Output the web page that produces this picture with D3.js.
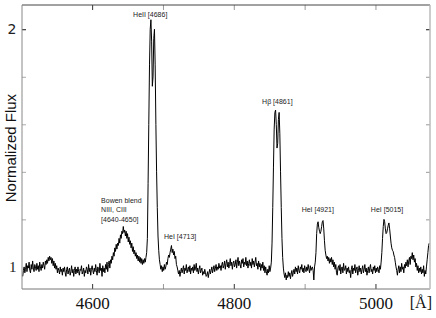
<!DOCTYPE html>
<html>
<head>
<meta charset="utf-8">
<script src="https://cdn.jsdelivr.net/npm/d3@7"></script>
<style>
  body { margin: 0; background: #fff; }
  svg { display: block; }
  .lineid { opacity: 0.99; }
</style>
</head>
<body>
<div id="chart"></div>
<script>
var wlStart = 4502;
var wlStep = 1;
var flux = [
  0.96, 0.985, 1.0, 0.975, 0.99, 1.015, 0.98, 1.005, 0.995, 1.02, 0.985, 0.975, 1.01, 0.99, 1.025, 0.995, 0.98, 1.01, 1.0, 0.985,
  1.015, 0.99, 1.005, 0.98, 1.02, 1.0, 0.985, 1.01, 0.995, 1.02, 1.005, 0.99, 1.025, 1.01, 1.03, 1.015, 1.04, 1.025, 1.045, 1.03,
  1.04, 1.015, 1.035, 1.005, 1.025, 0.995, 1.015, 0.99, 1.005, 0.975, 0.995, 0.985, 0.97, 1.0, 0.98, 0.99, 0.965, 0.995, 0.98, 1.0,
  0.975, 0.96, 0.99, 1.0, 0.97, 0.985, 0.995, 0.965, 0.98, 1.005, 0.975, 0.99, 0.96, 0.985, 1.0, 0.97, 0.99, 0.975, 1.0, 0.98,
  0.965, 0.99, 0.985, 1.005, 0.97, 0.98, 0.995, 0.96, 0.985, 0.975, 1.0, 0.99, 0.97, 1.01, 0.98, 0.995, 0.965, 0.99, 1.005, 0.985,
  0.97, 0.995, 0.98, 1.01, 0.985, 0.965, 1.0, 0.99, 0.975, 1.015, 0.985, 0.995, 0.96, 1.005, 0.98, 0.995, 0.975, 1.01, 0.99, 1.02,
  0.98, 1.01, 1.025, 0.995, 1.03, 1.015, 1.045, 1.03, 1.06, 1.045, 1.08, 1.065, 1.095, 1.075, 1.1, 1.09, 1.12, 1.1, 1.135, 1.12,
  1.15, 1.14, 1.17, 1.145, 1.155, 1.13, 1.15, 1.12, 1.14, 1.105, 1.125, 1.095, 1.11, 1.08, 1.1, 1.065, 1.085, 1.055, 1.07, 1.045,
  1.06, 1.035, 1.05, 1.025, 1.045, 1.02, 1.04, 1.015, 1.035, 1.01, 1.03, 1.015, 1.035, 1.02, 1.04, 1.06, 1.12, 1.35, 1.6, 1.85,
  2.0, 2.04, 1.95, 1.76, 1.8, 1.96, 2.0, 1.85, 1.6, 1.4, 1.25, 1.13, 1.07, 1.03, 1.01, 0.99, 1.005, 0.98, 1.0, 0.985,
  1.01, 0.99, 1.0, 1.02, 1.01, 1.035, 1.05, 1.04, 1.06, 1.075, 1.09, 1.06, 1.075, 1.05, 1.065, 1.035, 1.045, 1.01, 1.0, 0.985,
  0.97, 0.985, 0.96, 0.98, 0.995, 0.975, 0.99, 1.005, 0.97, 0.995, 0.985, 1.01, 0.975, 0.99, 1.0, 0.98, 1.005, 0.97, 0.995, 0.985,
  1.0, 0.975, 1.01, 0.985, 0.995, 1.015, 0.98, 0.995, 0.97, 0.99, 1.005, 0.975, 0.985, 0.995, 0.965, 0.98, 0.97, 0.99, 0.975, 0.96,
  0.965, 0.98, 0.955, 0.975, 0.99, 0.97, 0.985, 1.0, 0.975, 0.99, 1.005, 0.98, 0.995, 1.01, 0.985, 1.0, 0.99, 1.015, 0.995, 1.005,
  0.985, 1.01, 1.02, 0.995, 1.005, 1.025, 0.99, 1.015, 1.03, 1.0, 1.02, 0.995, 1.01, 1.035, 1.005, 1.02, 0.99, 1.015, 1.025, 1.0,
  1.01, 1.03, 0.995, 1.02, 1.04, 1.005, 1.025, 1.01, 0.995, 1.03, 1.015, 1.035, 1.0, 1.02, 1.01, 1.04, 1.005, 1.025, 0.995, 1.015,
  1.03, 1.005, 1.02, 0.995, 1.035, 1.01, 1.025, 1.0, 1.02, 1.04, 1.005, 1.015, 0.99, 1.025, 1.0, 1.015, 0.985, 1.01, 0.995, 1.02,
  0.985, 1.005, 0.975, 1.0, 0.98, 0.965, 0.99, 0.975, 1.005, 0.98, 0.995, 1.02, 1.1, 1.25, 1.42, 1.58, 1.65, 1.66, 1.6, 1.5,
  1.52, 1.62, 1.65, 1.56, 1.4, 1.25, 1.12, 1.04, 0.995, 0.97, 0.955, 0.975, 0.945, 0.965, 0.955, 0.98, 0.96, 0.975, 0.95, 0.97,
  0.985, 0.96, 0.975, 0.99, 0.97, 1.0, 0.98, 0.995, 0.97, 1.005, 0.985, 0.975, 1.0, 0.99, 1.01, 0.98, 0.995, 0.975, 1.005, 0.99,
  0.98, 1.0, 0.985, 1.01, 0.99, 0.975, 1.005, 0.985, 0.995, 1.0, 0.985, 0.945, 1.0, 1.02, 1.06, 1.14, 1.18, 1.19, 1.165, 1.15,
  1.14, 1.15, 1.17, 1.19, 1.195, 1.16, 1.11, 1.07, 1.05, 1.035, 1.045, 1.025, 1.04, 1.015, 1.035, 1.02, 1.04, 1.01, 1.03, 1.0,
  1.02, 0.99, 1.01, 0.975, 0.965, 0.995, 1.005, 0.985, 1.01, 0.97, 0.995, 1.0, 0.975, 1.015, 0.985, 0.99, 1.005, 0.97, 0.995, 0.98,
  1.0, 0.975, 0.985, 0.955, 0.99, 1.005, 0.97, 0.995, 0.985, 1.01, 0.975, 0.99, 1.0, 0.965, 0.985, 1.005, 0.98, 0.995, 0.97, 0.99,
  1.005, 0.975, 0.99, 1.01, 0.98, 0.995, 0.965, 0.985, 1.0, 0.975, 0.995, 1.01, 0.98, 0.99, 0.97, 1.0, 0.985, 1.005, 0.975, 0.995,
  0.98, 1.0, 0.99, 0.975, 1.005, 0.99, 1.02, 1.06, 1.12, 1.17, 1.2, 1.19, 1.16, 1.14, 1.145, 1.16, 1.175, 1.185, 1.16, 1.13,
  1.1, 1.08, 1.07, 1.065, 1.05, 1.04, 1.02, 1.0, 0.985, 0.965, 0.99, 1.005, 0.975, 1.0, 0.98, 1.015, 0.99, 1.0, 0.975, 1.01,
  0.995, 1.02, 1.005, 1.03, 1.0, 1.025, 1.04, 1.01, 1.045, 1.035, 1.06, 1.03, 1.05, 1.02, 1.035, 1.0, 1.015, 0.985, 1.005, 0.975,
  0.995, 0.98, 1.0, 0.97, 0.99, 0.975, 1.005, 0.96, 0.985, 0.97, 1.0, 1.03, 1.06, 1.09, 1.1
];

var xTicks = [4600, 4700, 4800, 4900, 5000];
var xTickLabels = ["4600", "", "4800", "", "5000"];
var yTicks = [1.2, 1.4, 1.6, 1.8, 2.0];
var yTickLabels = [["1", 1.0], ["2", 2.0]];

// line identifications: text, wavelength, flux of the label baseline
var lineLabels = [
  ["HeII [4686]", 4682, 2.052, "middle"],
  ["H\u03b2 [4861]", 4861.5, 1.686, "middle"],
  ["Bowen blend", 4612.7, 1.268, "start"],
  ["NIII, CIII", 4612.7, 1.230, "start"],
  ["[4640-4650]", 4612.7, 1.191, "start"],
  ["HeI [4713]", 4701.5, 1.118, "start"],
  ["HeI [4921]", 4895.8, 1.230, "start"],
  ["HeI [5015]", 4993.5, 1.231, "start"]
];

var spectrum = flux.map(function (f, i) { return { wl: wlStart + i * wlStep, f: f }; });

var margin = { top: 5, right: 6, bottom: 29, left: 22 };
var W = 436, H = 318;
var width = W - margin.left - margin.right;
var height = H - margin.top - margin.bottom;

var svg = d3.select("#chart")
  .append("svg")
  .attr("width", W)
  .attr("height", H)
  .append("g")
  .attr("transform", "translate(" + margin.left + "," + margin.top + ")");

var xScale = d3.scaleLinear().domain([4501, 5077]).range([0, width]);
var yScale = d3.scaleLinear().domain([0.907, 2.102]).range([height, 0]);

// spectrum
var line = d3.line()
  .x(function (d) { return xScale(d.wl); })
  .y(function (d) { return yScale(d.f); });

svg.append("path")
  .datum(spectrum)
  .attr("fill", "none")
  .attr("stroke", "#000")
  .attr("stroke-width", 1)
  .attr("stroke-linejoin", "bevel")
  .attr("d", line);

// bottom axis (ticks inward)
var xAxis = svg.append("g")
  .attr("transform", "translate(0," + height + ")")
  .call(d3.axisBottom(xScale)
    .tickValues(xTicks)
    .tickSizeInner(-5)
    .tickSizeOuter(0)
    .tickPadding(8)
    .tickFormat(function (d, i) { return xTickLabels[i]; }));
xAxis.select(".domain").remove();
xAxis.selectAll(".tick line")
  .attr("stroke", function (d) { return d % 200 === 0 ? "#333" : "#999"; });
xAxis.selectAll(".tick text")
  .style("font-family", "'Liberation Serif', 'Times New Roman', serif")
  .style("font-size", "17px")
  .attr("fill", "#111");

// top axis (ticks inward, no labels)
var xTop = svg.append("g")
  .call(d3.axisTop(xScale)
    .tickValues(xTicks)
    .tickSizeInner(-5)
    .tickSizeOuter(0)
    .tickFormat(""));
xTop.select(".domain").remove();
xTop.selectAll(".tick line")
  .attr("stroke", function (d) { return d === 4600 ? "#333" : "#999"; });

// left axis
var yLeft = svg.append("g")
  .call(d3.axisLeft(yScale)
    .tickValues(yTicks)
    .tickSizeInner(-4)
    .tickSizeOuter(0)
    .tickFormat(""));
yLeft.select(".domain").remove();
yLeft.selectAll(".tick line")
  .attr("stroke", function (d) { return d === 2 ? "#111" : "#aaa"; });

// right axis
var yRight = svg.append("g")
  .attr("transform", "translate(" + width + ",0)")
  .call(d3.axisRight(yScale)
    .tickValues(yTicks)
    .tickSizeInner(-4)
    .tickSizeOuter(0)
    .tickFormat(""));
yRight.select(".domain").remove();
yRight.selectAll(".tick line")
  .attr("stroke", function (d) { return d === 2 ? "#111" : "#999"; });

// frame
svg.append("line").attr("x1", 0).attr("x2", width).attr("y1", 0).attr("y2", 0)
  .attr("stroke", "#444").attr("stroke-width", 1);
svg.append("line").attr("x1", 0).attr("x2", width).attr("y1", height).attr("y2", height)
  .attr("stroke", "#777").attr("stroke-width", 1);
svg.append("line").attr("x1", 0).attr("x2", 0).attr("y1", 0).attr("y2", height)
  .attr("stroke", "#888").attr("stroke-width", 1);
svg.append("line").attr("x1", width).attr("x2", width).attr("y1", 0).attr("y2", height)
  .attr("stroke", "#bbb").attr("stroke-width", 1.5);

// y tick labels
svg.selectAll(".ylab")
  .data(yTickLabels)
  .enter()
  .append("text")
  .attr("class", "ylab")
  .attr("x", -5.5)
  .attr("y", function (d) { return yScale(d[1]); })
  .attr("dy", "0.35em")
  .attr("text-anchor", "end")
  .style("font-family", function (d) { return d[0] === "1" ? "'Liberation Serif', serif" : "'DejaVu Sans', sans-serif"; })
  .style("font-size", function (d) { return d[0] === "1" ? "15px" : "14px"; })
  .attr("fill", "#222")
  .text(function (d) { return d[0]; });

// axis titles
svg.append("text")
  .attr("transform", "rotate(-90)")
  .attr("x", -(yScale(1.5)))
  .attr("y", -6)
  .attr("text-anchor", "middle")
  .style("font-family", "'Liberation Sans', Arial, sans-serif")
  .style("font-size", "15px")
  .attr("fill", "#111")
  .text("Normalized Flux");

svg.append("text")
  .attr("x", width + 2)
  .attr("y", height + 19)
  .attr("text-anchor", "end")
  .style("font-family", "'Liberation Serif', serif")
  .style("font-size", "16px")
  .attr("fill", "#111")
  .text("[\u00c5]");

// line identifications
svg.selectAll(".lineid")
  .data(lineLabels)
  .enter()
  .append("text")
  .attr("class", "lineid")
  .attr("x", function (d) { return xScale(d[1]); })
  .attr("y", function (d) { return yScale(d[2]); })
  .attr("text-anchor", function (d) { return d[3]; })
  .style("font-family", "'Liberation Sans', Arial, sans-serif")
  .style("font-size", "7px")
  .attr("fill", "#222")
  .text(function (d) { return d[0]; });
</script>
</body>
</html>
